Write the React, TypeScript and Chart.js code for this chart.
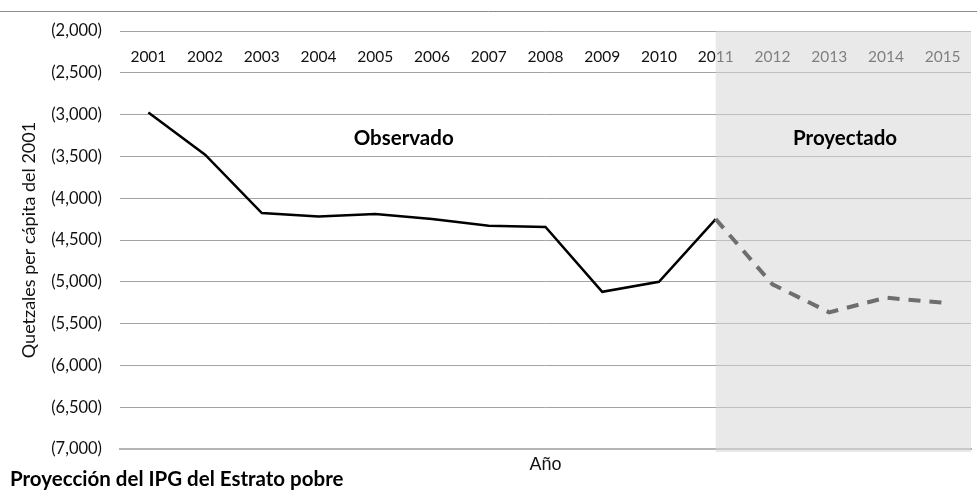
import React, { useEffect, useRef } from 'react';
import { Chart, registerables } from 'chart.js';

Chart.register(...registerables);

const years = ['2001', '2002', '2003', '2004', '2005', '2006', '2007', '2008', '2009', '2010', '2011', '2012', '2013', '2014', '2015'];
const observed = [-2975, -3480, -4177, -4220, -4190, -4250, -4330, -4345, -5120, -5000, -4250, null, null, null, null];
const projected = [null, null, null, null, null, null, null, null, null, null, -4250, -5030, -5365, -5190, -5250];
const yMin = -7000;
const yMax = -2000;
const yStep = 500;
const shadeFromIndex = 10;
const yearLabelValue = -2310;
const sectionLabels = ['Observado', 'Proyectado'];
const sectionLabelIndex = [4.5, 12.28];
const sectionLabelValue = -3290;
const chartTitle = 'Proyección del IPG del Estrato pobre';
const yTitle = 'Quetzales per cápita del 2001';
const xTitle = 'Año';

const FONT = 'Lato, "Open Sans", sans-serif';

const fmt = (v: number) => '(' + Math.abs(v).toLocaleString('en-US') + ')';

export default function App() {
  const ref = useRef<HTMLCanvasElement | null>(null);

  useEffect(() => {
    if (!ref.current) return;
    const decor = {
      id: 'decor',
      beforeDatasetsDraw(chart: any) {
        const ctx = chart.ctx;
        const xs = chart.scales.x;
        const ys = chart.scales.y;
        ctx.save();
        ctx.strokeStyle = '#8c8c8c';
        ctx.lineWidth = 1;
        ctx.beginPath();
        ctx.moveTo(0, 11.5);
        ctx.lineTo(chart.width, 11.5);
        ctx.stroke();
        ctx.fillStyle = '#111';
        ctx.font = '15.5px ' + FONT;
        ctx.textAlign = 'center';
        ctx.textBaseline = 'middle';
        const ly = ys.getPixelForValue(yearLabelValue);
        years.forEach((y, i) => {
          ctx.fillText(y, xs.getPixelForValue(i), ly);
        });
        ctx.restore();
      },
      afterDatasetDraw(chart: any, args: any) {
        if (args.index !== 1) return;
        const ctx = chart.ctx;
        const xs = chart.scales.x;
        const area = chart.chartArea;
        const x0 = xs.getPixelForValue(shadeFromIndex);
        ctx.save();
        ctx.fillStyle = 'rgba(215,215,215,0.55)';
        ctx.fillRect(x0, area.top, area.right - x0, area.bottom - area.top + 3);
        ctx.restore();
      },
      afterDatasetsDraw(chart: any) {
        const ctx = chart.ctx;
        const xs = chart.scales.x;
        const ys = chart.scales.y;
        ctx.save();
        ctx.fillStyle = '#000';
        ctx.font = 'bold 20.5px ' + FONT;
        ctx.textAlign = 'center';
        ctx.textBaseline = 'middle';
        sectionLabels.forEach((t, i) => {
          const px = xs.left + (sectionLabelIndex[i] + 0.5) * (xs.width / years.length);
          ctx.fillText(t, px, ys.getPixelForValue(sectionLabelValue));
        });
        ctx.font = 'bold 20.5px ' + FONT;
        ctx.textAlign = 'left';
        ctx.fillText(chartTitle, 10, 479);
        ctx.restore();
      },
    };

    const chart = new Chart(ref.current, {
      type: 'line',
      data: {
        labels: years,
        datasets: [
          {
            label: 'Proyectado',
            data: projected,
            borderColor: '#6e6e6e',
            borderWidth: 4,
            borderDash: [12, 9],
            pointRadius: 0,
            fill: false,
            tension: 0,
            spanGaps: false,
          },
          {
            label: 'Observado',
            data: observed,
            borderColor: '#000000',
            borderWidth: 2.5,
            pointRadius: 0,
            fill: false,
            tension: 0,
            spanGaps: false,
          },
        ],
      },
      options: {
        responsive: false,
        animation: false,
        layout: { padding: { top: 31, right: 6, bottom: 0, left: 0 } },
        plugins: {
          legend: { display: false },
          tooltip: { enabled: false },
          title: { display: false },
        },
        scales: {
          x: {
            type: 'category',
            offset: true,
            grid: { display: false, drawTicks: false },
            border: { display: true, color: '#b5b5b5', width: 2 },
            ticks: { display: false },
            title: {
              display: true,
              text: xTitle,
              color: '#111',
              font: { family: '"Liberation Sans", Arial, sans-serif', size: 18 },
              padding: { top: 0, bottom: 25 },
            },
            afterFit: (s: any) => { s.height = 52; },
          },
          y: {
            min: yMin,
            max: yMax,
            grid: { color: '#a3a3a3', lineWidth: 1, drawTicks: false },
            border: { display: false },
            ticks: {
              stepSize: yStep,
              padding: 18,
              color: '#111',
              font: { family: FONT, size: 16.5 },
              callback: (v: any) => fmt(Number(v)),
            },
            title: {
              display: true,
              text: yTitle,
              color: '#111',
              font: { family: FONT, size: 18 },
              padding: { top: 18, bottom: 0 },
            },
            afterFit: (s: any) => { s.width = 120; },
          },
        },
      },
      plugins: [decor],
    });
    return () => chart.destroy();
  }, []);

  return (
    <div style={{ position: 'absolute', left: 0, top: 0, width: 977, height: 501, background: '#fff' }}>
      <canvas ref={ref} width={977} height={501} style={{ display: 'block' }} />
    </div>
  );
}
